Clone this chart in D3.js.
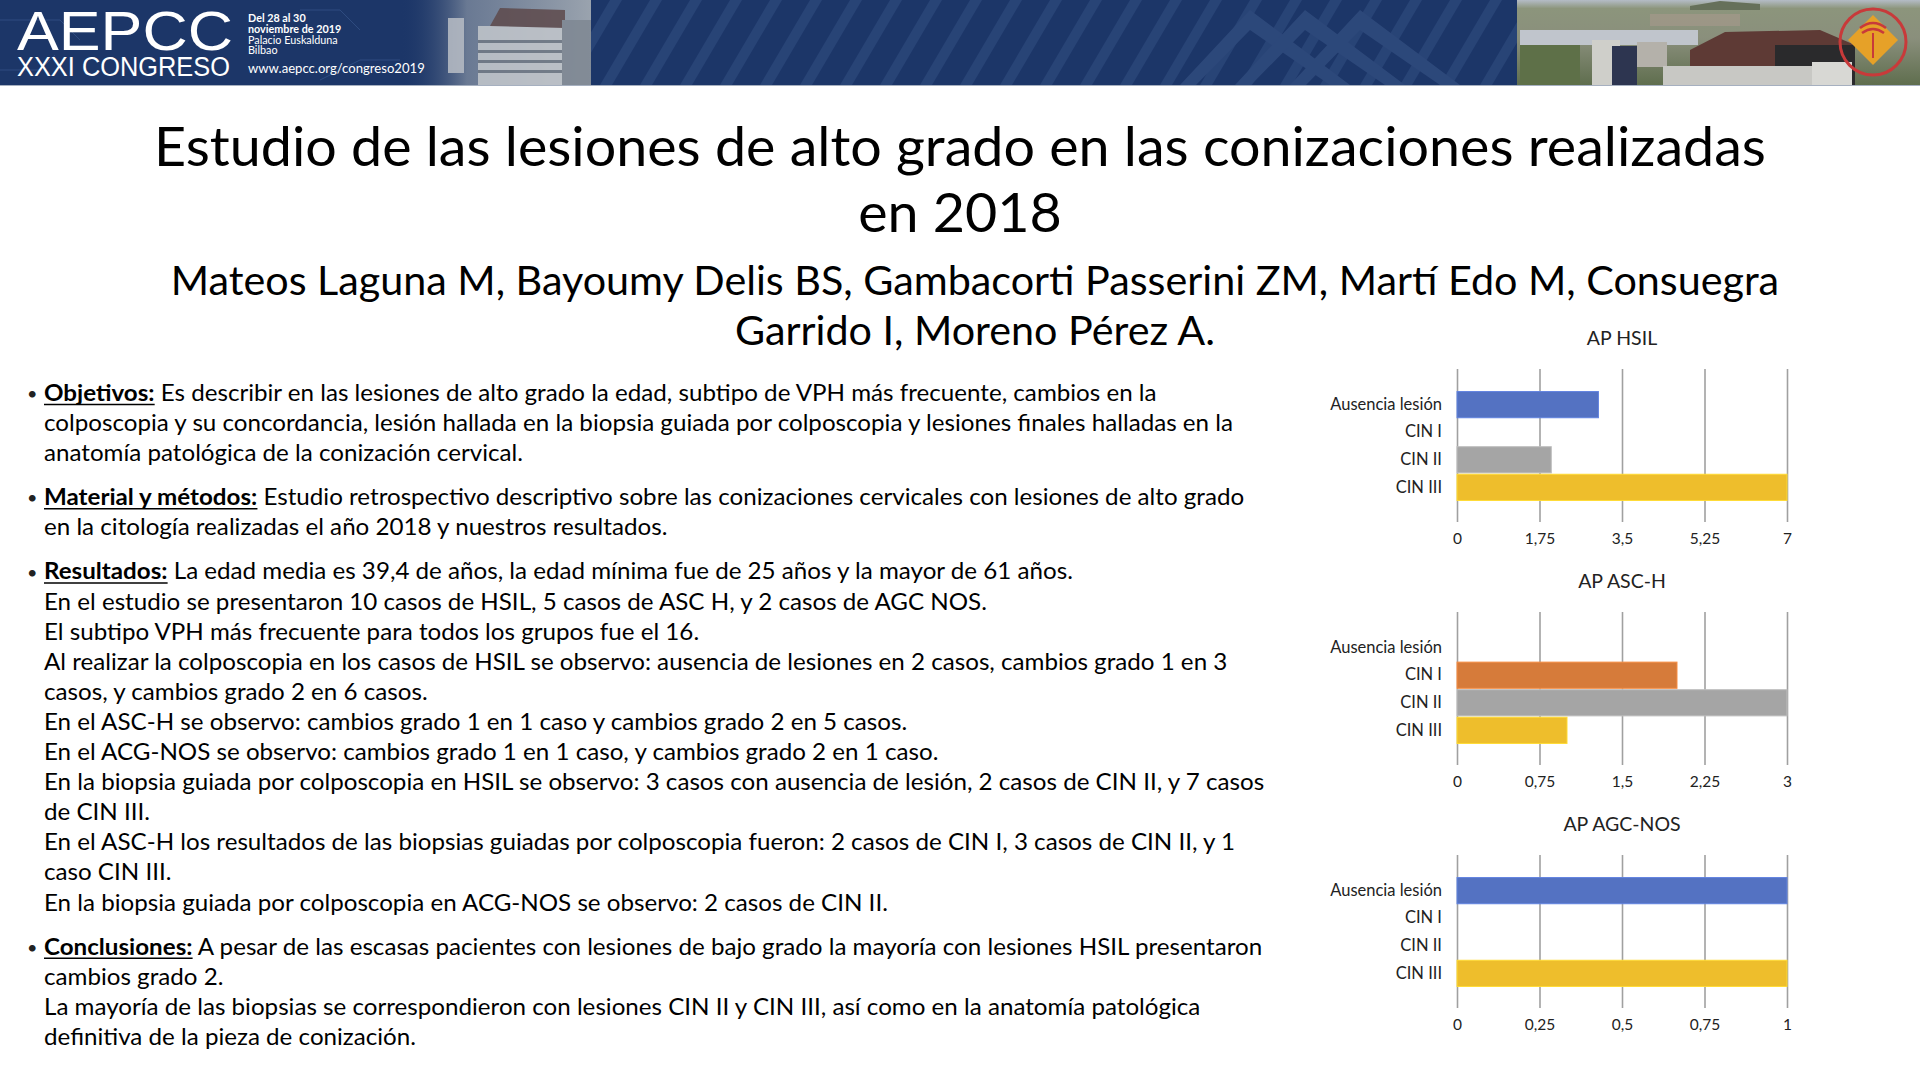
<!DOCTYPE html>
<html>
<head>
<meta charset="utf-8">
<script src="https://cdn.jsdelivr.net/npm/d3@7"></script>
<style>
  html, body { margin: 0; padding: 0; background: #fff; }
  svg { display: block; font-family: Lato, "Open Sans", sans-serif; }
</style>
</head>
<body>
<script>
// chart data
const categories = ["Ausencia lesión", "CIN I", "CIN II", "CIN III"];
const barColors = ["#5472C2", "#D67B3A", "#A5A5A5", "#EEBE2C"];
const chartTitles = ["AP HSIL", "AP ASC-H", "AP AGC-NOS"];
const hsilValues = [3, 0, 2, 7];
const ascHValues = [0, 2, 3, 1];
const agcNosValues = [1, 0, 0, 1];
const hsilTicks = [0, 1.75, 3.5, 5.25, 7];
const ascHTicks = [0, 0.75, 1.5, 2.25, 3];
const agcNosTicks = [0, 0.25, 0.5, 0.75, 1];

// poster text
const titleLines = ["Estudio de las lesiones de alto grado en las conizaciones realizadas", "en 2018"];
const authorLines = ["Mateos Laguna M, Bayoumy Delis BS, Gambacorti Passerini ZM, Martí Edo M, Consuegra", "Garrido I, Moreno Pérez A."];
const sections = [
  {head: "Objetivos:", lines: [
    " Es describir en las lesiones de alto grado la edad, subtipo de VPH más frecuente, cambios en la",
    "colposcopia y su concordancia, lesión hallada en la biopsia guiada por colposcopia y lesiones finales halladas en la",
    "anatomía patológica de la conización cervical."]},
  {head: "Material y métodos:", lines: [
    " Estudio retrospectivo descriptivo sobre las conizaciones cervicales con lesiones de alto grado",
    "en la citología realizadas el año 2018 y nuestros resultados."]},
  {head: "Resultados:", lines: [
    " La edad media es 39,4 de años, la edad mínima fue de 25 años y la mayor de 61 años.",
    "En el estudio se presentaron 10 casos de HSIL, 5 casos de ASC H, y 2 casos de AGC NOS.",
    "El subtipo VPH más frecuente para todos los grupos fue el 16.",
    "Al realizar la colposcopia en los casos de HSIL se observo: ausencia de lesiones en 2 casos, cambios grado 1 en 3",
    "casos, y cambios grado 2 en 6 casos.",
    "En el ASC-H se observo: cambios grado 1 en 1 caso y cambios grado 2 en 5 casos.",
    "En el ACG-NOS se observo: cambios grado 1 en 1 caso, y cambios grado 2 en 1 caso.",
    "En la biopsia guiada por colposcopia en HSIL se observo: 3 casos con ausencia de lesión, 2 casos de CIN II, y 7 casos",
    "de CIN III.",
    "En el ASC-H los resultados de las biopsias guiadas por colposcopia fueron: 2 casos de CIN I, 3 casos de CIN II, y 1",
    "caso CIN III.",
    "En la biopsia guiada por colposcopia en ACG-NOS se observo: 2 casos de CIN II."]},
  {head: "Conclusiones:", lines: [
    " A pesar de las escasas pacientes con lesiones de bajo grado la mayoría con lesiones HSIL presentaron",
    "cambios grado 2.",
    "La mayoría de las biopsias se correspondieron con lesiones CIN II y CIN III, así como en la anatomía patológica",
    "definitiva de la pieza de conización."]}
];
const bannerInfo = ["Del 28 al 30", "noviembre de 2019", "Palacio Euskalduna", "Bilbao"];

const W = 1920, H = 1079;
const svg = d3.select("body").append("svg").attr("width", W).attr("height", H);
const defs = svg.append("defs");

// squeeze a text element horizontally so it spans a given width
function fitWidth(sel, target, anchorX) {
  const w = sel.node().getBBox().width;
  const s = target / w;
  sel.attr("transform", `translate(${anchorX},0) scale(${s},1) translate(${-anchorX},0)`);
}

// ---------- banner ----------
const banner = svg.append("g");
banner.append("rect").attr("width", W).attr("height", 85).attr("fill", "#1c3668");

// stripes in the middle
const stripes = banner.append("g").attr("opacity", 0.2);
d3.range(0, 26).forEach(i => {
  const x0 = 560 + i * 40;
  stripes.append("path")
    .attr("d", `M${x0},85 L${x0 + 12},85 L${x0 + 62},0 L${x0 + 50},0 Z`)
    .attr("fill", "#5a7bb0");
});
[0, 1, 2].forEach(i => {
  const x0 = 1180 + i * 55;
  stripes.append("path")
    .attr("d", `M${x0},85 L${x0 + 16},85 L${x0 + 70},30 L${x0 + 150},85 L${x0 + 170},85 L${x0 + 70},10 Z`)
    .attr("fill", "#6f8fc2");
});

// faint circuit lines on the left
const circ = banner.append("g").attr("stroke", "#3a5a90").attr("stroke-width", 1).attr("fill", "none").attr("opacity", 0.6);
[[0, 20, 60, 20, 80, 40], [0, 70, 40, 70, 55, 55], [300, 10, 340, 10, 360, 30], [320, 80, 360, 60, 400, 60]].forEach(p => {
  circ.append("polyline").attr("points", `${p[0]},${p[1]} ${p[2]},${p[3]} ${p[4]},${p[5]}`);
});

// left building photo fading in
const gL = defs.append("linearGradient").attr("id", "gLeft").attr("x1", 0).attr("x2", 1);
gL.append("stop").attr("offset", 0).attr("stop-color", "#1c3668").attr("stop-opacity", 0);
gL.append("stop").attr("offset", 0.35).attr("stop-color", "#7d8a9e").attr("stop-opacity", 0.8);
gL.append("stop").attr("offset", 1).attr("stop-color", "#9aa3ae");
banner.append("rect").attr("x", 400).attr("width", 191).attr("height", 85).attr("fill", "url(#gLeft)");
const bld = banner.append("g").attr("opacity", 0.85);
bld.append("rect").attr("x", 478).attr("y", 26).attr("width", 84).attr("height", 59).attr("fill", "#c3c7cc");
bld.append("path").attr("d", "M490,26 L500,8 L565,10 L565,28 Z").attr("fill", "#5e4a4c");
bld.append("rect").attr("x", 448).attr("y", 18).attr("width", 16).attr("height", 55).attr("fill", "#b9bec6");
[40, 50, 60, 70].forEach(yy => bld.append("rect").attr("x", 478).attr("y", yy).attr("width", 84).attr("height", 3).attr("fill", "#6f7884"));
bld.append("rect").attr("x", 562).attr("y", 20).attr("width", 29).attr("height", 65).attr("fill", "#7f8893");

// right city photo
const gR = defs.append("linearGradient").attr("id", "gRight").attr("x1", 0).attr("x2", 0).attr("y1", 0).attr("y2", 1);
gR.append("stop").attr("offset", 0).attr("stop-color", "#b4bcc6");
gR.append("stop").attr("offset", 0.1).attr("stop-color", "#8c957c");
gR.append("stop").attr("offset", 0.45).attr("stop-color", "#8a8f7c");
gR.append("stop").attr("offset", 1).attr("stop-color", "#5f6e4e");
banner.append("rect").attr("x", 1517).attr("width", W - 1517).attr("height", 85).attr("fill", "url(#gRight)");
banner.append("path").attr("d", "M1690,6 L1720,1 L1760,4 L1760,10 L1690,10 Z").attr("fill", "#66705a");
banner.append("rect").attr("x", 1650).attr("y", 14).attr("width", 90).attr("height", 12).attr("fill", "#a99a8e").attr("opacity", 0.6);
banner.append("rect").attr("x", 1520).attr("y", 30).attr("width", 178).attr("height", 15).attr("fill", "#c0c5cc");
banner.append("rect").attr("x", 1520).attr("y", 45).attr("width", 60).attr("height", 40).attr("fill", "#5e7048");
banner.append("rect").attr("x", 1592).attr("y", 40).attr("width", 28).attr("height", 45).attr("fill", "#cfcfca");
banner.append("rect").attr("x", 1612).attr("y", 46).attr("width", 25).attr("height", 39).attr("fill", "#2d3550");
banner.append("rect").attr("x", 1637).attr("y", 42).attr("width", 30).attr("height", 25).attr("fill", "#b4b1aa");
banner.append("path").attr("d", "M1690,50 L1725,32 L1820,30 L1855,45 L1855,85 L1690,85 Z").attr("fill", "#5e3a35");
banner.append("rect").attr("x", 1775).attr("y", 45).attr("width", 80).attr("height", 40).attr("fill", "#2a2a2c");
banner.append("rect").attr("x", 1663).attr("y", 66).attr("width", 150).attr("height", 19).attr("fill", "#c8c8c4");
banner.append("rect").attr("x", 1812).attr("y", 62).attr("width", 40).attr("height", 23).attr("fill", "#d8d8d4");
banner.append("circle").attr("cx", 1873).attr("cy", 42).attr("r", 33)
  .attr("fill", "none").attr("stroke", "#c83a3a").attr("stroke-width", 3);
banner.append("path").attr("d", "M1873,15 L1898,40 L1873,65 L1848,40 Z").attr("fill", "#e6a128");
banner.append("path").attr("d", "M1860,28 Q1873,18 1886,28 M1862,33 Q1873,25 1884,33").attr("stroke", "#c83a3a").attr("stroke-width", 2.5).attr("fill", "none");
banner.append("line").attr("x1", 1873).attr("x2", 1873).attr("y1", 33).attr("y2", 58).attr("stroke", "#c83a3a").attr("stroke-width", 2);
banner.append("line").attr("x1", 0).attr("x2", W).attr("y1", 85.5).attr("y2", 85.5).attr("stroke", "#a6b0c0").attr("stroke-width", 1);

// banner text
const aep = banner.append("text").attr("x", 17).attr("y", 50).attr("fill", "#fff")
  .attr("font-family", "'Liberation Sans Narrow', 'Liberation Sans', sans-serif").attr("font-size", 55).text("AEPCC");
fitWidth(aep, 216, 17);
const cong = banner.append("text").attr("x", 17).attr("y", 76).attr("fill", "#fff")
  .attr("font-family", "'Liberation Sans Narrow', 'Liberation Sans', sans-serif").attr("font-size", 28).text("XXXI CONGRESO");
fitWidth(cong, 213, 17);
bannerInfo.forEach((t, i) => {
  const bt = banner.append("text").attr("x", 248).attr("y", 22.5 + i * 10.6).attr("fill", "#fff")
    .attr("font-size", 12).attr("font-weight", i < 2 ? "bold" : "normal").text(t);
  bt.attr("transform", `translate(248,0) scale(0.9,1) translate(-248,0)`);
});
const url = banner.append("text").attr("x", 248).attr("y", 73).attr("fill", "#fff").attr("font-size", 12.5).text("www.aepcc.org/congreso2019");
fitWidth(url, 177, 248);

// ---------- title and authors ----------
const t1 = svg.append("text").attr("x", 960).attr("y", 166).attr("text-anchor", "middle")
  .attr("font-size", 55).attr("fill", "#000").text(titleLines[0]);
fitWidth(t1, 1612, 960);
const t2 = svg.append("text").attr("x", 960).attr("y", 232).attr("text-anchor", "middle")
  .attr("font-size", 55).attr("fill", "#000").text(titleLines[1]);
t2.attr("transform", t1.attr("transform"));
const a1 = svg.append("text").attr("x", 975).attr("y", 295).attr("text-anchor", "middle")
  .attr("font-size", 41).attr("fill", "#000").text(authorLines[0]);
fitWidth(a1, 1609, 975);
const a2 = svg.append("text").attr("x", 975).attr("y", 345).attr("text-anchor", "middle")
  .attr("font-size", 41).attr("fill", "#000").text(authorLines[1]);
a2.attr("transform", a1.attr("transform"));

// ---------- body text ----------
const textX = 44, lineH = 30.1, paraGap = 14, bodySize = 23;
const body = svg.append("g");
const bullets = svg.append("g");
let y = 401;
sections.forEach(sec => {
  bullets.append("text").attr("x", 27).attr("y", y - 1).attr("font-size", 18).attr("fill", "#222").text("•");
  sec.lines.forEach((ln, i) => {
    const tx = body.append("text").attr("x", textX).attr("y", y).attr("font-size", bodySize).attr("fill", "#000");
    if (i === 0) {
      const hd = tx.append("tspan").attr("font-weight", "bold").text(sec.head);
      tx.append("tspan").text(ln);
      const hw = hd.node().getComputedTextLength();
      body.append("line").attr("x1", textX).attr("x2", textX + hw)
        .attr("y1", y + 3.5).attr("y2", y + 3.5).attr("stroke", "#000").attr("stroke-width", 1.6);
    } else {
      tx.text(ln);
    }
    y += lineH;
  });
  y += paraGap;
});
// horizontal squeeze from the longest results line
const refLine = body.selectAll("text").filter(function() { return this.textContent.startsWith("En la biopsia guiada por colposcopia en HSIL"); });
const sBody = 1221 / refLine.node().getComputedTextLength();
body.attr("transform", `translate(${textX},0) scale(${sBody},1) translate(${-textX},0)`);

// ---------- bar charts ----------
const comma = d3.formatLocale({decimal: ",", thousands: ".", grouping: [3], currency: ["", "€"]}).format("~g");
const plotLeft = 1457, plotW = 330, gridH = 153;
const chartTops = [369, 612, 855];
const seriesList = [hsilValues, ascHValues, agcNosValues];
const tickList = [hsilTicks, ascHTicks, agcNosTicks];

seriesList.forEach((vals, k) => {
  const top = chartTops[k];
  const g = svg.append("g");
  const ticks = tickList[k];
  const x = d3.scaleLinear().domain([0, d3.max(ticks)]).range([plotLeft, plotLeft + plotW]);
  const yb = d3.scaleBand().domain(categories).range([top + 22, top + 132]).paddingInner(0.05).paddingOuter(0.02);

  g.append("text").attr("x", plotLeft + plotW / 2).attr("y", top - 24).attr("text-anchor", "middle")
    .attr("font-size", 19.5).attr("fill", "#222").text(chartTitles[k]);

  // gridlines
  g.append("g").attr("transform", `translate(0,${top + gridH})`)
    .call(d3.axisBottom(x).tickValues(ticks).tickSize(-gridH).tickFormat(""))
    .call(a => a.select(".domain").remove())
    .call(a => a.selectAll("line").attr("stroke", "#a0a0a0").attr("stroke-width", 1.6));

  // tick labels
  g.append("g").attr("transform", `translate(0,${top + gridH + 8})`)
    .call(d3.axisBottom(x).tickValues(ticks).tickSize(0).tickFormat(comma))
    .call(a => a.select(".domain").remove())
    .call(a => a.selectAll("text").attr("font-size", 15.5).attr("font-family", "Lato").attr("fill", "#222"));

  // bars
  g.selectAll("rect.bar").data(categories.map((c, i) => ({c, v: vals[i], i})).filter(d => d.v > 0))
    .join("rect").attr("class", "bar")
    .attr("x", x(0)).attr("y", d => yb(d.c))
    .attr("width", d => x(d.v) - x(0)).attr("height", yb.bandwidth())
    .attr("fill", d => barColors[d.i])
    .attr("stroke", d => d3.color(barColors[d.i]).brighter(0.4)).attr("stroke-width", 1);

  // category labels
  g.append("g").attr("transform", `translate(${plotLeft - 15},0)`)
    .call(d3.axisLeft(yb).tickSize(0).tickPadding(0))
    .call(a => a.select(".domain").remove())
    .call(a => a.selectAll("text").attr("font-size", 16.5).attr("font-family", "Lato").attr("fill", "#222"));
});
</script>
</body>
</html>
